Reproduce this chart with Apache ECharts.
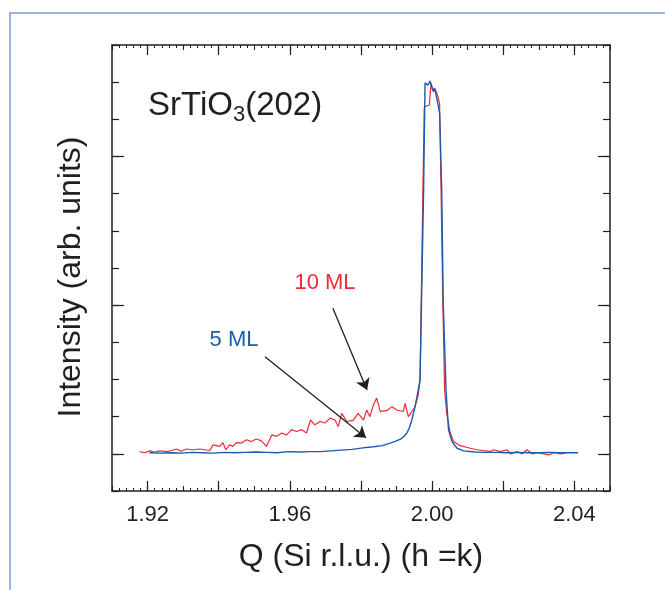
<!DOCTYPE html>
<html><head><meta charset="utf-8">
<script src="https://cdn.jsdelivr.net/npm/echarts@6/dist/echarts.min.js"></script>
<style>html,body{margin:0;padding:0;background:#fff}#c{width:665px;height:590px}</style>
</head><body><div id="c"></div>
<script>
// ---- data (Q in Si r.l.u., intensity in arb. units) ----
const q10 = [1.9178,1.9192,1.9206,1.9220,1.9234,1.9253,1.9267,1.9281,1.9295,1.9309,
1.9328,1.9347,1.9375,1.9384,1.9403,1.9412,1.9420,1.9431,1.9440,1.9450,
1.9464,1.9478,1.9492,1.9506,1.9520,1.9534,1.9549,1.9563,1.9577,1.9591,
1.9605,1.9619,1.9633,1.9647,1.9658,1.9670,1.9685,1.9699,1.9713,1.9727,
1.9736,1.9746,1.9760,1.9778,1.9792,1.9807,1.9816,1.9825,1.9835,1.9844,
1.9854,1.9872,1.9887,1.9901,1.9919,1.9924,1.9933,1.9943,1.9952,1.9961,
1.9966,1.9974,1.9978,1.9992,1.9997,2.0004,2.0009,2.0015,2.0021,2.0025,
2.0030,2.0035,2.0041,2.0051,2.0060,2.0079,2.0107,2.0126,2.0145,2.0163,
2.0173,2.0192,2.0210,2.0220,2.0239,2.0253,2.0267,2.0281,2.0295,2.0314,
2.0328,2.0342,2.0361,2.0375];
const i10 = [0.06,0.03,0.08,0.05,0.08,0.06,0.09,0.13,0.07,0.13,
0.11,0.13,0.09,0.24,0.20,0.30,0.11,0.24,0.20,0.30,
0.29,0.38,0.33,0.40,0.35,0.20,0.51,0.47,0.56,0.51,
0.65,0.60,0.65,0.56,0.91,0.78,0.87,0.83,0.96,0.91,
0.73,1.09,0.87,0.90,1.09,0.91,1.18,1.00,1.32,1.50,
1.14,1.16,1.27,1.18,1.14,1.36,1.00,1.14,1.27,1.59,
1.99,7.10,9.34,9.38,9.97,9.74,9.80,9.65,9.43,7.10,
4.14,1.72,1.09,0.56,0.33,0.22,0.15,0.11,0.09,0.06,
0.11,0.06,0.11,0.00,0.06,0.00,0.11,0.00,0.03,0.00,
-0.03,0.03,0.00,0.02];
const q5 = [1.9205,1.9235,1.9265,1.9295,1.9325,1.9355,1.9385,1.9415,1.9445,1.9475,
1.9505,1.9535,1.9565,1.9595,1.9625,1.9655,1.9685,1.9715,1.9745,1.9775,
1.9805,1.9835,1.9860,1.9882,1.9900,1.9912,1.9922,1.9929,1.9936,1.9943,
1.9952,1.9961,1.9966,1.9976,1.9980,1.9988,1.9994,2.0002,2.0007,2.0013,
2.0021,2.0027,2.0031,2.0039,2.0046,2.0056,2.0070,2.0089,2.0120,2.0150,
2.0180,2.0210,2.0240,2.0270,2.0300,2.0330,2.0360,2.0390,2.0410];
const i5 = [0.03,0.02,0.03,0.02,0.04,0.03,0.02,0.04,0.03,0.04,
0.05,0.04,0.03,0.06,0.05,0.06,0.06,0.08,0.10,0.12,
0.16,0.19,0.22,0.29,0.35,0.40,0.48,0.56,0.70,0.91,
1.27,1.72,1.99,7.10,9.98,9.92,10.03,9.77,9.84,9.57,
9.17,7.10,4.14,1.72,0.65,0.33,0.15,0.08,0.05,0.04,
0.04,0.03,0.04,0.03,0.03,0.04,0.03,0.03,0.03];

// ---- axis ticks / labels ----
const xTickLabels = ['1.92','1.96','2.00','2.04'];
const xCats = ['1.91','1.92','1.93','1.94','1.95','1.96','1.97','1.98','1.99','2.00','2.01','2.02','2.03','2.04','2.05'];
const xLongTicks = ['1.92','1.94','1.96','1.98','2.00','2.02','2.04'];
const yCats = ['-1','0','1','2','3','4','5','6','7','8','9','10','11'];
const yLongTicks = ['0','4','8'];

// ---- annotations ----
const seriesNames = ['10 ML', '5 ML'];
const arrow10 = [[1.9721, 3.92], [1.9817, 1.72]];
const arrow5 = [[1.9530, 2.61], [1.9814, 0.43]];

const FONT = '"Liberation Sans", Arial, Helvetica, sans-serif';
const AX = '#231f20';
const RED = '#ee2a36';
const BLUE = '#1a5cab';

const chart = echarts.init(document.getElementById('c'), null, {renderer: 'canvas'});

const axLine = {onZero: false, lineStyle: {color: AX, width: 1.5}};
function xVal(pos, labels) {
  return {
    gridIndex: 0, type: 'value', position: pos, min: 1.91, max: 2.05, interval: 0.01,
    axisLine: axLine,
    axisTick: {inside: true, length: 5, lineStyle: {color: AX, width: 1.1}},
    minorTick: {show: true, splitNumber: 5, length: 3, lineStyle: {color: AX, width: 1}},
    splitLine: {show: false}, minorSplitLine: {show: false},
    axisLabel: labels ? {
      show: true, margin: 13, fontSize: 22, color: AX, fontFamily: FONT,
      formatter: v => (xTickLabels.includes(v.toFixed(2)) ? v.toFixed(2) : '')
    } : {show: false}
  };
}
function xCat(pos) {
  return {
    gridIndex: 1, type: 'category', position: pos, boundaryGap: false, data: xCats,
    axisLine: {show: false, onZero: false},
    axisTick: {show: true, inside: true, length: 10, interval: (i, v) => xLongTicks.includes(v),
      lineStyle: {color: AX, width: 1.2}},
    axisLabel: {show: false}, splitLine: {show: false}
  };
}
function yVal(pos) {
  return {
    gridIndex: 0, type: 'value', position: pos, min: -1, max: 11, interval: 1,
    axisLine: axLine,
    axisTick: {inside: true, length: 7, lineStyle: {color: AX, width: 1.2}},
    axisLabel: {show: false}, splitLine: {show: false}
  };
}
function yCat(pos) {
  return {
    gridIndex: 1, type: 'category', position: pos, boundaryGap: false, data: yCats,
    axisLine: {show: false, onZero: false},
    axisTick: {show: true, inside: true, length: 12, interval: (i, v) => yLongTicks.includes(v),
      lineStyle: {color: AX, width: 1.2}},
    axisLabel: {show: false}, splitLine: {show: false}
  };
}

const xb = xVal('bottom', true);
xb.name = 'Q (Si r.l.u.) (h =k)';
xb.nameLocation = 'middle';
xb.nameGap = 50;
xb.nameTextStyle = {fontSize: 32, color: AX, fontFamily: FONT};
const yl = yVal('left');
yl.name = 'Intensity (arb. units)';
yl.nameLocation = 'middle';
yl.nameGap = 25;
yl.nameTextStyle = {fontSize: 32, color: AX, fontFamily: FONT, padding: [0, 18, 0, 0]};

const option = {
  animation: false,
  backgroundColor: '#ffffff',
  grid: [
    {left: 112, right: 55, top: 45, bottom: 99, show: false},
    {left: 112, right: 55, top: 45, bottom: 99, show: false}
  ],
  xAxis: [xb, xVal('top', false), xCat('bottom'), xCat('top')],
  yAxis: [yl, yVal('right'), yCat('left'), yCat('right')],
  series: [
    {
      name: seriesNames[0], type: 'line', xAxisIndex: 0, yAxisIndex: 0,
      data: q10.map((q, k) => [q, i10[k]]),
      symbol: 'none', showSymbol: false, z: 2,
      lineStyle: {color: RED, width: 1.2}, itemStyle: {color: RED},
      markLine: {
        silent: true, symbol: ['none', 'arrow'], symbolSize: 11,
        label: {show: false}, emphasis: {disabled: true},
        lineStyle: {color: AX, width: 1.3, type: 'solid'},
        data: [
          [{coord: arrow10[0]}, {coord: arrow10[1]}],
          [{coord: arrow5[0]}, {coord: arrow5[1]}]
        ]
      }
    },
    {
      name: seriesNames[1], type: 'line', xAxisIndex: 0, yAxisIndex: 0,
      data: q5.map((q, k) => [q, i5[k]]),
      symbol: 'none', showSymbol: false, z: 3,
      lineStyle: {color: BLUE, width: 1.4}, itemStyle: {color: BLUE}
    }
  ],
  graphic: [
    {type: 'rect', silent: true, z: -10, shape: {x: 10, y: 13, width: 800, height: 800},
      style: {fill: 'none', stroke: '#7c9cd3', lineWidth: 1.5}},
    {type: 'text', silent: true, x: 148, y: 86,
      style: {
        text: '{a|SrTiO}{s|3}{a|(202)}', verticalAlign: 'top', align: 'left',
        rich: {
          a: {fontSize: 33, lineHeight: 40, fontFamily: FONT, fill: AX, verticalAlign: 'middle'},
          s: {fontSize: 22, lineHeight: 22, fontFamily: FONT, fill: AX, verticalAlign: 'bottom'}
        }
      }},
    {type: 'text', silent: true, x: 325, y: 283,
      style: {text: seriesNames[0], fontSize: 22, fontFamily: FONT, fill: RED, align: 'center', verticalAlign: 'middle'}},
    {type: 'text', silent: true, x: 234, y: 340,
      style: {text: seriesNames[1], fontSize: 22, fontFamily: FONT, fill: BLUE, align: 'center', verticalAlign: 'middle'}}
  ]
};
chart.setOption(option);
</script>
</body></html>
